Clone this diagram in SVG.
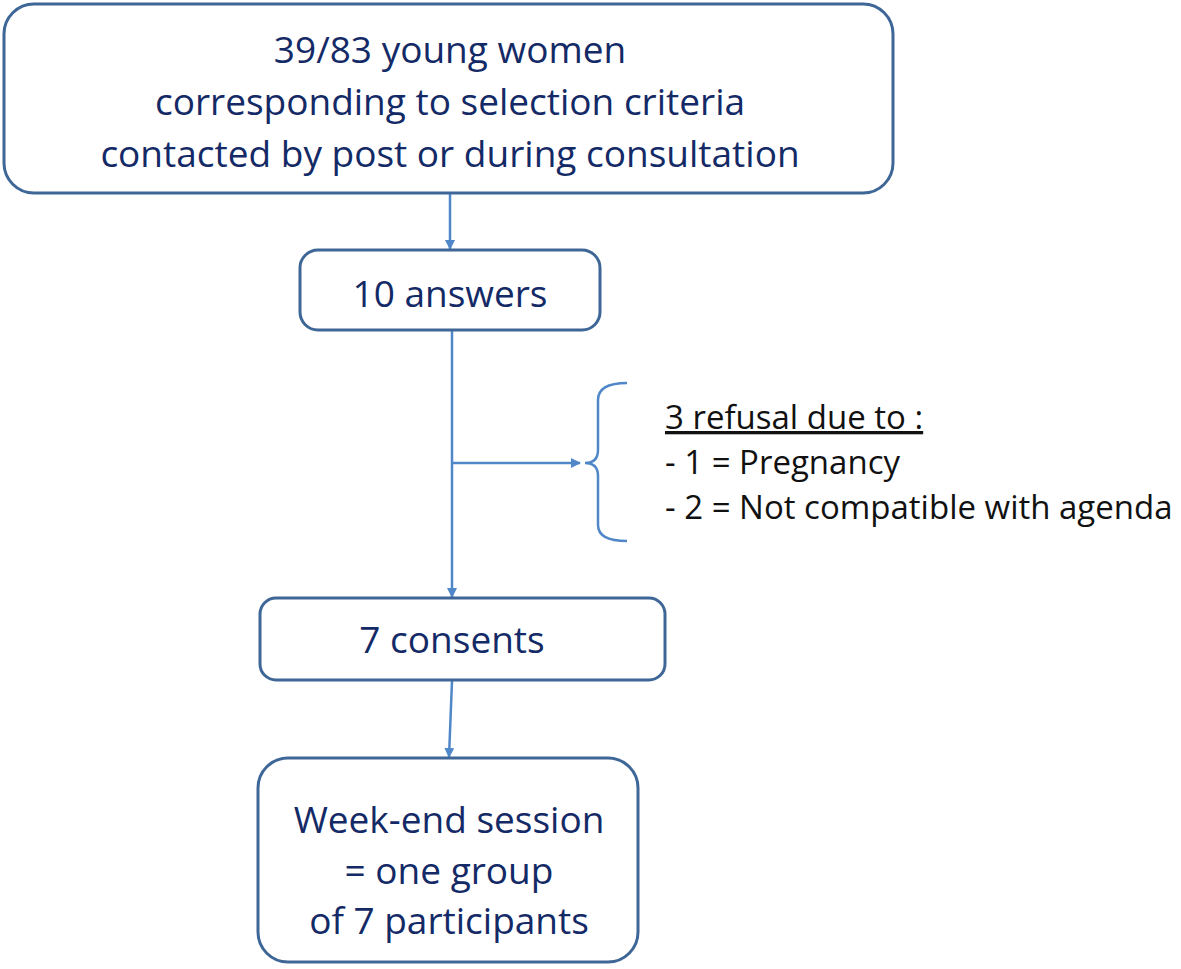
<svg xmlns="http://www.w3.org/2000/svg" width="1181" height="969" viewBox="0 0 1181 969">
<defs>
<style>
.box{fill:#fff;stroke:#3e6797;stroke-width:3}
.t{font-family:"Open Sans","Liberation Sans",sans-serif;fill:#142a66;text-anchor:middle;font-size:37px}
.s{font-family:"Open Sans","Liberation Sans",sans-serif;fill:#111;font-size:33px}
.c{stroke:#5087c8;stroke-width:2.5;fill:none}
</style>
<marker id="ah" markerWidth="10" markerHeight="10" refX="9" refY="5" orient="auto" markerUnits="userSpaceOnUse">
<path d="M0,0 L10,5 L0,10 Z" fill="#5087c8"/>
</marker>
</defs>
<rect width="1181" height="969" fill="#fff"/>
<g id="connectors">
<line class="c" x1="450" y1="194" x2="450" y2="249" marker-end="url(#ah)"/>
<line class="c" x1="452" y1="331" x2="452" y2="597" marker-end="url(#ah)"/>
<line class="c" x1="452" y1="463" x2="580" y2="463" marker-end="url(#ah)"/>
<line class="c" x1="452" y1="681" x2="449" y2="757" marker-end="url(#ah)"/>
<path class="c" d="M627,383 Q598,383 598,400 L598,450 Q598,463 585,463 Q598,463 598,476 L598,525 Q598,541 627,541"/>
</g>
<g id="n1">
<rect class="box" x="4" y="4" width="889" height="189" rx="30"/>
<text class="t" x="450" y="63">39/83 young women</text>
<text class="t" x="450" y="115">corresponding to selection criteria</text>
<text class="t" x="450" y="167">contacted by post or during consultation</text>
</g>
<g id="n2">
<rect class="box" x="300" y="250" width="300" height="80" rx="18"/>
<text class="t" x="450" y="307">10 answers</text>
</g>
<g id="n3">
<rect class="box" x="260" y="598" width="405" height="82" rx="16"/>
<text class="t" x="452" y="653">7 consents</text>
</g>
<g id="n4">
<rect class="box" x="258" y="758" width="380" height="204" rx="30"/>
<text class="t" x="449" y="833">Week-end session</text>
<text class="t" x="449" y="884">= one group</text>
<text class="t" x="449" y="934">of 7 participants</text>
</g>
<g id="note">
<text class="s" x="665" y="429" text-decoration="underline">3 refusal due to :</text>
<text class="s" x="665" y="474">- 1 = Pregnancy</text>
<text class="s" x="665" y="519">- 2 = Not compatible with agenda</text>
</g>
</svg>
